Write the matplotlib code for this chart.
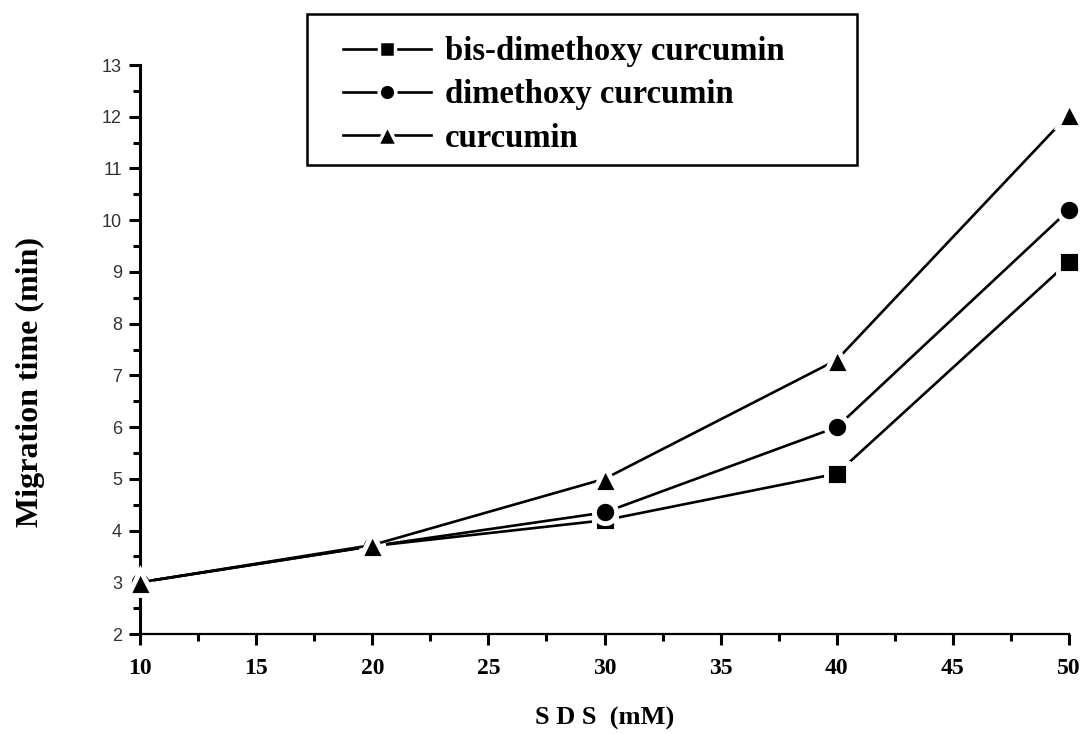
import matplotlib
matplotlib.use("Agg")
import matplotlib.pyplot as plt
from matplotlib.ticker import MultipleLocator
from matplotlib.patches import Rectangle

sds = [10, 20, 30, 40, 50]
bis_dimethoxy = [3.0, 3.7, 4.2, 5.1, 9.2]
dimethoxy = [3.0, 3.7, 4.35, 6.0, 10.2]
curcumin = [3.0, 3.72, 5.0, 7.3, 12.05]
labels = ["bis-dimethoxy curcumin", "dimethoxy curcumin", "curcumin"]

W, H = 1084, 734
fig = plt.figure(figsize=(W / 100, H / 100), dpi=100)
ax = fig.add_axes([0.1292, 0.1362, 0.857, 0.7752])

serif = ["Liberation Serif", "DejaVu Serif"]
common = dict(color="black", lw=1.9, markeredgecolor="white", clip_on=False, zorder=3)
h1, = ax.plot(sds, bis_dimethoxy, marker="s", markersize=15.5, markeredgewidth=3.5, **common)
h2, = ax.plot(sds, dimethoxy, marker="o", markersize=16, markeredgewidth=3.5, **common)
h3, = ax.plot(sds, curcumin, marker="^", markersize=18, markeredgewidth=3.5, **common)

ax.set_xlim(10, 50)
ax.set_ylim(2, 13)
for s in ["top", "right"]:
    ax.spines[s].set_visible(False)
ax.spines["left"].set_linewidth(2.2)
ax.spines["bottom"].set_linewidth(1.6)

ax.xaxis.set_major_locator(MultipleLocator(5))
ax.xaxis.set_minor_locator(MultipleLocator(2.5))
ax.yaxis.set_major_locator(MultipleLocator(1))
ax.yaxis.set_minor_locator(MultipleLocator(0.5))
ax.tick_params(which="major", direction="out", length=8, width=2.2)
ax.tick_params(which="minor", direction="out", length=5, width=2.2)
ax.tick_params(axis="y", labelsize=13, labelcolor="#333333", pad=5)
ax.tick_params(axis="x", labelsize=17, pad=9)
for t in ax.get_xticklabels():
    t.set_fontfamily(serif)
    t.set_fontweight("bold")
for t in ax.get_yticklabels():
    t.set_fontfamily(["Liberation Sans", "DejaVu Sans"])

ax.set_xlabel("S D S  (mM)", fontsize=19, fontweight="bold", family=serif, labelpad=20)
ax.set_ylabel("Migration time (min)", fontsize=23, fontweight="bold", family=serif, labelpad=41)
ax.yaxis.label.set_y(0.443)

leg = fig.legend([h1, h2, h3], labels, loc="upper left",
                 bbox_to_anchor=(343 / W, 1 - 36 / H),
                 prop={"family": serif, "weight": "bold", "size": 23.5},
                 frameon=False,
                 handlelength=2.7, handletextpad=0.42, labelspacing=0.38,
                 borderpad=0, borderaxespad=0)
for lh, ms in zip(leg.legend_handles, (12, 12, 15)):
    lh.set_markersize(ms)
    lh.set_markeredgewidth(2.5)

fig.add_artist(Rectangle((307 / W, 1 - 165 / H), (857 - 307) / W, (165 - 14) / H,
                         transform=fig.transFigure, fill=False,
                         edgecolor="black", linewidth=1.8))

fig.savefig("out.png", dpi=100)
